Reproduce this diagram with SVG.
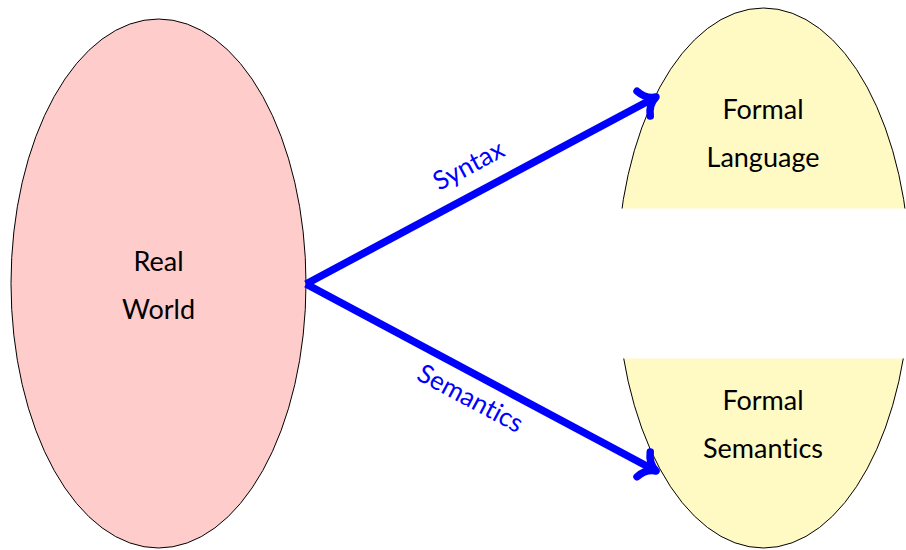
<svg xmlns="http://www.w3.org/2000/svg" width="906" height="550" viewBox="0 0 906 550">
  <defs>
    <style>
      .node-text { font-family: Lato, "Open Sans", "DejaVu Sans", sans-serif; font-size: 27px; fill: #000; text-anchor: middle; font-variant-ligatures: none; }
      .edge-label { font-family: Lato, "Open Sans", "DejaVu Sans", sans-serif; font-size: 26px; fill: #0000FF; text-anchor: middle; font-variant-ligatures: none; }
      .edge { stroke: #0000FF; stroke-width: 7.5; fill: none; marker-end: url(#to); }
      .outline { stroke: #000; stroke-width: 1; }
    </style>
    <marker id="to" markerUnits="userSpaceOnUse" orient="auto" refX="0" refY="0" markerWidth="40" markerHeight="40" overflow="visible">
      <path d="M -14,-14 C -11,-6 -5,-1.5 0,0 C -5,1.5 -11,6 -14,14" fill="none" stroke="#0000FF" stroke-width="7.5" stroke-linecap="round" stroke-linejoin="round"/>
    </marker>
    <clipPath id="clipTop"><rect x="0" y="0" width="906" height="208.5"/></clipPath>
    <clipPath id="clipBottom"><rect x="0" y="358.5" width="906" height="200"/></clipPath>
  </defs>
  <rect width="906" height="550" fill="#FFFFFF"/>

  <g id="real-world">
    <ellipse cx="158.5" cy="283.5" rx="147.5" ry="264.5" fill="#FFCCCC" class="outline"/>
    <text class="node-text" x="158.5" y="271">Real</text>
    <text class="node-text" x="158.5" y="319">World</text>
  </g>

  <g id="formal-language">
    <ellipse cx="763.5" cy="278" rx="146.5" ry="270" fill="#FFF9C4" class="outline" clip-path="url(#clipTop)"/>
    <text class="node-text" x="763" y="119">Formal</text>
    <text class="node-text" x="763" y="167">Language</text>
  </g>

  <g id="formal-semantics">
    <ellipse cx="763.5" cy="278" rx="146.5" ry="270" fill="#FFF9C4" class="outline" clip-path="url(#clipBottom)"/>
    <text class="node-text" x="763" y="410">Formal</text>
    <text class="node-text" x="763" y="458">Semantics</text>
  </g>

  <g id="connectors">
    <path class="edge" d="M 306,284 L 656,97"/>
    <path class="edge" d="M 306,284 L 656,471"/>
    <text class="edge-label" transform="translate(469,166) rotate(-28)" x="0" y="8">Syntax</text>
    <text class="edge-label" transform="translate(470,399) rotate(28)" x="0" y="8">Semantics</text>
  </g>
</svg>
